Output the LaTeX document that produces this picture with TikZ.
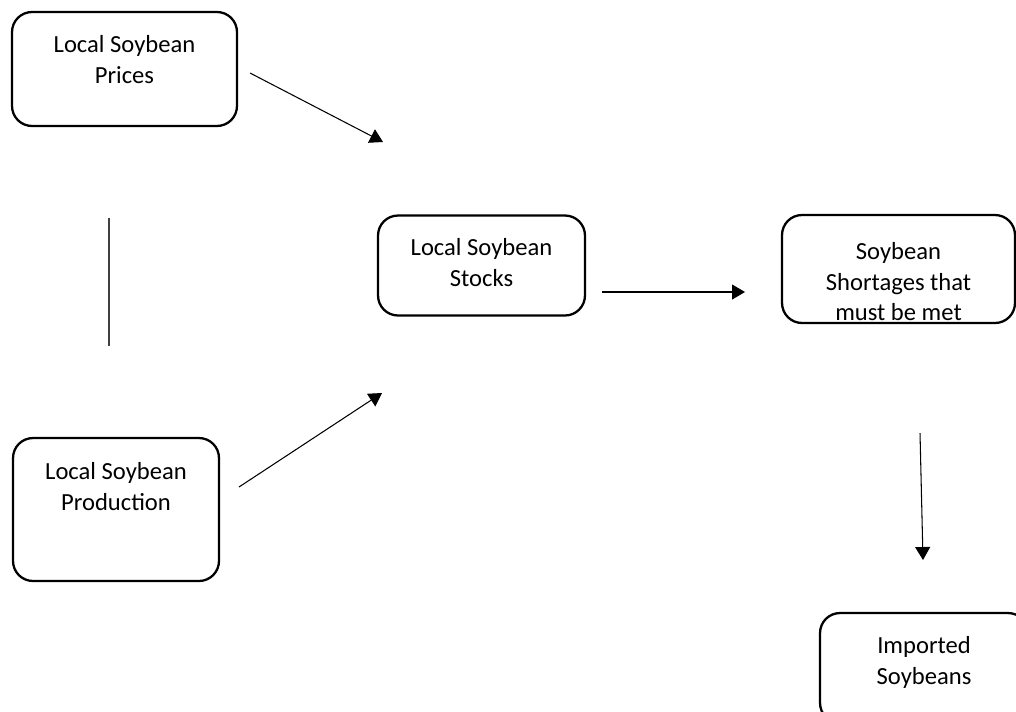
\documentclass[tikz,border=0pt]{standalone}
\usepackage{fontspec}
\setmainfont{Carlito}
\usetikzlibrary{arrows.meta}

\begin{document}
\begin{tikzpicture}[x=0.02cm,y=-0.02cm,line width=0.6pt,
  box/.style={draw,line width=1.3pt,rounded corners=0.4cm,inner sep=0pt},
  boxtext/.style={anchor=north,align=center,inner sep=0pt,yshift=-0.48cm,
    font=\fontsize{14pt}{17.4pt}\selectfont},
  link/.style={-{Triangle[length=0.26cm,width=0.3cm]}}]
\clip (0,0) rectangle (1016,711);
% boxes
\node[box,minimum width=4.5cm,minimum height=2.28cm] (prices) at (124.5,69) {};
\node[box,minimum width=4.14cm,minimum height=2.0cm] (stocks) at (481.5,265.5) {};
\node[box,minimum width=4.66cm,minimum height=2.16cm] (short) at (898.5,269) {};
\node[box,minimum width=4.12cm,minimum height=2.86cm] (prod) at (116,509.5) {};
\node[box,minimum width=4.16cm,minimum height=2.2cm] (import) at (924,668) {};
% texts
\node[boxtext] (prices-t) at (prices.north) {Local Soybean\\Prices};
\node[boxtext] (stocks-t) at (stocks.north) {Local Soybean\\Stocks};
\node[boxtext,yshift=-0.08cm] (short-t) at (short.north) {Soybean\\Shortages that\\must be met};
\node[boxtext,yshift=-0.02cm] (prod-t) at (prod.north) {Local Soybean\\Production};
\node[boxtext] (import-t) at (import.north) {Imported\\Soybeans};
% connector ends
\coordinate (pr-out) at (250,73);
\coordinate (st-in1) at (383,142);
\coordinate (pd-out) at (239,487);
\coordinate (st-in2) at (382,393);
\coordinate (st-out) at (602,292);
\coordinate (sh-in) at (745,292);
\coordinate (sh-out) at (920,433);
\coordinate (im-in) at (923,560);
\coordinate (vl-top) at (109,218);
\coordinate (vl-bot) at (109,346);
% connectors
\draw[link] (pr-out) -- (st-in1);
\draw[link] (pd-out) -- (st-in2);
\draw[link] (st-out) -- (sh-in);
\draw[link] (sh-out) -- (im-in);
\draw[black!75,line width=0.8pt] (vl-top) -- (vl-bot);
\end{tikzpicture}
\end{document}
